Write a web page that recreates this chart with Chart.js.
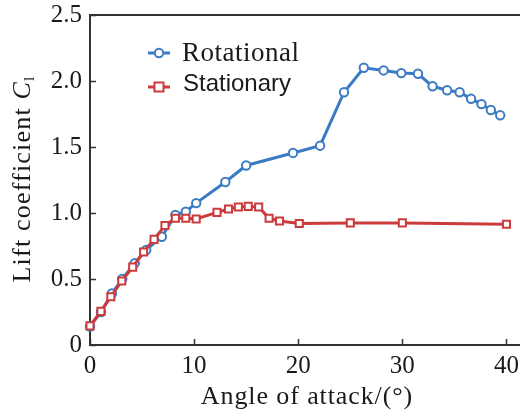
<!DOCTYPE html>
<html><head><meta charset="utf-8">
<script src="https://cdn.jsdelivr.net/npm/chart.js@4/dist/chart.umd.min.js"></script>
<style>html,body{margin:0;padding:0;background:#fff}canvas{display:block}</style>
</head><body>
<canvas id="c" width="520" height="412"></canvas>
<script>
// ---- data ----
const rotAngle = [0, 1.05, 2.1, 3.1, 4.3, 5.4, 6.9, 8.2, 9.2, 10.2, 13.0, 15.0, 19.5, 22.1, 24.4, 26.3, 28.2, 29.9, 31.5, 32.9, 34.3, 35.5, 36.6, 37.6, 38.5, 39.4];
const rotCl    = [0.14, 0.25, 0.39, 0.50, 0.62, 0.72, 0.82, 0.985, 1.01, 1.075, 1.235, 1.36, 1.455, 1.51, 1.915, 2.10, 2.08, 2.06, 2.055, 1.96, 1.93, 1.915, 1.865, 1.825, 1.78, 1.74];
const staAngle = [0, 1.05, 2.0, 3.05, 4.1, 5.15, 6.15, 7.2, 8.2, 9.2, 10.2, 12.2, 13.3, 14.25, 15.2, 16.2, 17.2, 18.2, 20.1, 25.0, 30.0, 40.0];
const staCl    = [0.145, 0.255, 0.365, 0.485, 0.59, 0.705, 0.80, 0.905, 0.96, 0.96, 0.955, 1.005, 1.03, 1.045, 1.05, 1.045, 0.96, 0.94, 0.92, 0.925, 0.925, 0.915];
const xTicks = [0, 10, 20, 30, 40];
const xTickLabels = ['0', '10', '20', '30', '40'];
const yTicks = [0, 0.5, 1.0, 1.5, 2.0, 2.5];
const yTickLabels = ['0', '0.5', '1.0', '1.5', '2.0', '2.5'];
const seriesNames = ['Rotational', 'Stationary'];
const xTitle = 'Angle of attack/(°)';
const yTitleMain = 'Lift coefficient ';
const yTitleSym = 'C';
const yTitleSub = 'l';

const BLUE = '#3b7bc4', RED = '#cc3b3b', AXIS = '#333', TXT = '#1a1a1a';
const SERIF = '"Liberation Serif", "DejaVu Serif", serif';
const SANS = '"Liberation Sans", Arial, sans-serif';

const deco = {
  id: 'deco',
  afterDraw(chart) {
    const {ctx, chartArea: a, scales: {x, y}} = chart;
    ctx.save();
    ctx.strokeStyle = AXIS;
    ctx.lineWidth = 2;
    ctx.beginPath();
    ctx.moveTo(a.left - 1, a.top);
    ctx.lineTo(chart.width, a.top);
    ctx.stroke();
    ctx.lineWidth = 1.5;
    ctx.beginPath();
    yTicks.forEach(v => { const py = Math.round(y.getPixelForValue(v)) + 0.5; ctx.moveTo(a.left, py); ctx.lineTo(a.left + 6, py); });
    xTicks.forEach(v => { const px = Math.round(x.getPixelForValue(v)) + 0.5; ctx.moveTo(px, a.bottom); ctx.lineTo(px, a.bottom - 6); });
    ctx.stroke();

    // legend
    const lx0 = 148, lx1 = 170, lcx = 159;
    ctx.lineWidth = 3;
    ctx.strokeStyle = BLUE;
    ctx.beginPath(); ctx.moveTo(lx0, 53); ctx.lineTo(lx1, 53); ctx.stroke();
    ctx.lineWidth = 2; ctx.fillStyle = '#fff';
    ctx.beginPath(); ctx.arc(lcx, 53, 4.2, 0, Math.PI * 2); ctx.fill(); ctx.stroke();
    ctx.lineWidth = 3; ctx.strokeStyle = RED;
    ctx.beginPath(); ctx.moveTo(lx0, 87); ctx.lineTo(lx1, 87); ctx.stroke();
    ctx.lineWidth = 2;
    ctx.fillRect(lcx - 4.5, 87 - 4.5, 9, 9); ctx.strokeRect(lcx - 4.5, 87 - 4.5, 9, 9);
    ctx.fillStyle = TXT;
    ctx.textBaseline = 'middle'; ctx.textAlign = 'left';
    ctx.font = '27px ' + SERIF;
    ctx.letterSpacing = '0.5px';
    ctx.fillText(seriesNames[0], 182, 54);
    ctx.letterSpacing = '0px';
    ctx.font = '24px ' + SANS;
    ctx.fillText(seriesNames[1], 183, 84);

    // x title
    ctx.font = '26px ' + SERIF;
    ctx.letterSpacing = '0.9px';
    ctx.textAlign = 'center';
    ctx.textBaseline = 'alphabetic';
    ctx.fillText(xTitle, (a.left + chart.width) / 2 + 2, 404);

    // y title
    ctx.textAlign = 'left';
    ctx.translate(21, 179);
    ctx.rotate(-Math.PI / 2);
    const f1 = '26px ' + SERIF, f2 = 'italic 26px ' + SERIF, f3 = '15px ' + SERIF;
    ctx.letterSpacing = '1.2px';
    ctx.font = f1; const w1 = ctx.measureText(yTitleMain).width;
    ctx.font = f2; const w2 = ctx.measureText(yTitleSym).width;
    ctx.font = f3; const w3 = ctx.measureText(yTitleSub).width;
    let sx = -(w1 + w2 + w3) / 2;
    ctx.font = f1; ctx.fillText(yTitleMain, sx, 9); sx += w1;
    ctx.font = f2; ctx.fillText(yTitleSym, sx, 9); sx += w2;
    ctx.font = f3; ctx.fillText(yTitleSub, sx, 13);
    ctx.restore();
  }
};

new Chart(document.getElementById('c'), {
  type: 'line',
  data: {
    datasets: [
      {
        label: seriesNames[1],
        data: staAngle.map((v, i) => ({x: v, y: staCl[i]})),
        borderColor: RED, backgroundColor: '#fff', borderWidth: 3,
        pointStyle: 'rect', pointRadius: 5, pointBorderWidth: 2,
        pointBackgroundColor: '#fff', pointBorderColor: RED,
        tension: 0, order: 0, clip: false
      },
      {
        label: seriesNames[0],
        data: rotAngle.map((v, i) => ({x: v, y: rotCl[i]})),
        borderColor: BLUE, backgroundColor: '#fff', borderWidth: 3,
        pointStyle: 'circle', pointRadius: 4.2, pointBorderWidth: 2,
        pointBackgroundColor: '#fff', pointBorderColor: BLUE,
        tension: 0, order: 1, clip: false
      }
    ]
  },
  options: {
    responsive: false, animation: false, devicePixelRatio: 1,
    layout: {autoPadding: false, padding: {top: 15, right: 0, left: 0, bottom: 0}},
    plugins: {legend: {display: false}, tooltip: {enabled: false}},
    scales: {
      x: {
        type: 'linear', min: 0, max: 41.3,
        afterBuildTicks: s => { s.ticks = xTicks.map(v => ({value: v})); },
        afterFit: s => { s.height = 67; s.paddingLeft = 0; s.paddingRight = 0; },
        grid: {drawOnChartArea: false, drawTicks: false},
        border: {display: true, color: AXIS, width: 2},
        ticks: {
          padding: 6, color: TXT, maxRotation: 0, autoSkip: false,
          font: {family: SERIF, size: 25},
          callback: (v) => xTickLabels[xTicks.indexOf(v)]
        }
      },
      y: {
        type: 'linear', min: 0, max: 2.5,
        afterBuildTicks: s => { s.ticks = yTicks.map(v => ({value: v})); },
        afterFit: s => { s.width = 90; s.paddingTop = 0; s.paddingBottom = 0; },
        grid: {drawOnChartArea: false, drawTicks: false},
        border: {display: true, color: AXIS, width: 2},
        ticks: {
          padding: 8, color: TXT, autoSkip: false,
          font: {family: SERIF, size: 25},
          callback: (v) => yTickLabels[yTicks.indexOf(v)]
        }
      }
    }
  },
  plugins: [deco]
});
</script>
</body></html>
